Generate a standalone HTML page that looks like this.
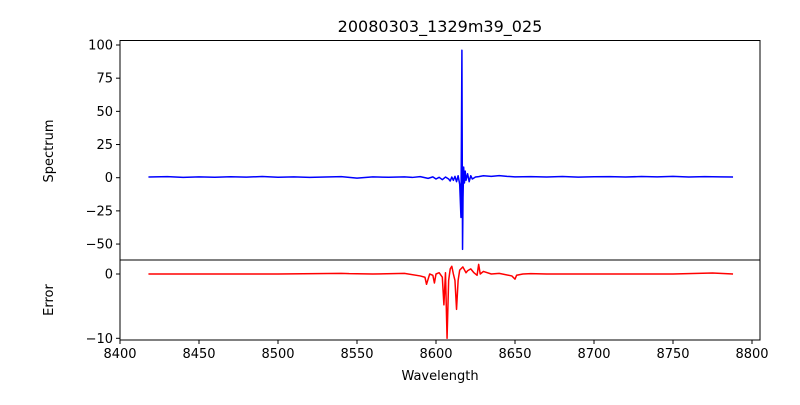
<!DOCTYPE html>
<html><head><meta charset="utf-8"><style>
body{margin:0;background:#fff}
svg{font-family:"DejaVu Sans","Liberation Sans",sans-serif}
</style></head><body>
<svg id="c" width="800" height="400" xmlns="http://www.w3.org/2000/svg"></svg>
<script>
const specX=[8418,8430,8440,8450,8460,8470,8480,8490,8500,8510,8520,8530,8540,8550,8560,8570,8580,8585,8590,8595,8598,8600,8602,8604,8606,8608,8609,8610,8611,8612,8613,8614,8615,8615.8,8616.4,8616.8,8617.1,8617.5,8618,8618.5,8619,8620,8621,8622,8623,8625,8627,8630,8635,8640,8645,8650,8660,8670,8680,8690,8700,8710,8720,8730,8740,8750,8760,8770,8780,8788];
const specY=[0.5,0.8,0.2,0.6,0.3,0.7,0.4,0.9,0.3,0.6,0.2,0.5,0.8,-0.3,0.6,0.3,0.6,0.2,0.8,-0.5,0.6,-1,0.3,-1.5,0.5,-1,-2.5,0.5,-2,1,-3,1.5,-5,-30,96,-54,-15,8,-4,5,-2,3,-3,1.5,-1,0.5,0.8,1.5,1,1.6,1,0.6,0.8,0.5,0.9,0.4,0.7,0.8,0.5,0.9,0.6,1,0.5,0.8,0.6,0.5];
const errX=[8418,8450,8500,8540,8545,8560,8580,8590,8593,8594,8596,8598,8599,8600,8602,8604,8605,8606,8607,8608,8609,8610,8611,8612,8613,8614,8615,8617,8619,8620,8622,8624,8626,8627,8628,8630,8635,8640,8648,8650,8651,8655,8660,8670,8700,8750,8775,8788];
const errY=[0,0,0,0.1,0.05,0,0.1,-0.3,-0.5,-1.6,0,-0.2,-1.4,0,0.2,-0.5,-4.8,0.2,-10,-1,0.8,1.2,0,-1,-5.5,-1,0.6,1.1,0.2,0.5,0.8,0.2,-0.2,1.5,0,0.4,0,0.1,-0.3,-0.8,-0.2,0,0.05,0,0,0,0.15,0];
const xTicks=[8400,8450,8500,8550,8600,8650,8700,8750,8800];
const specTicks=[100,75,50,25,0,-25,-50];
const errTicks=[0,-10];

const NS="http://www.w3.org/2000/svg";
const svg=document.getElementById('c');
const L=120,R=760;
const X=v=>L+(v-8400)*(752-120)/400;
const YS=v=>177.7-v*1.327;
const YE=v=>274-v*6.43;
function mk(t,a,p){const e=document.createElementNS(NS,t);for(const k in a)e.setAttribute(k,a[k]);(p||svg).appendChild(e);return e;}
function txt(x,y,s,anchor,size){const e=mk('text',{x:x,y:y,'text-anchor':anchor,'font-size':size||13,fill:'#000'});e.textContent=s;return e;}

const sp=mk('polyline',{points:specX.map((v,i)=>X(v)+','+YS(specY[i])).join(' '),fill:'none',stroke:'#0000ff','stroke-width':1.5,'stroke-linejoin':'round'});


const er=mk('polyline',{points:errX.map((v,i)=>X(v)+','+YE(errY[i])).join(' '),fill:'none',stroke:'#ff0000','stroke-width':1.5,'stroke-linejoin':'round'});



const f1=mk('rect',{x:L,y:40.5,width:R-L,height:219.5,fill:'none',stroke:'#000','stroke-width':1});


const f2=mk('rect',{x:L,y:260,width:R-L,height:80,fill:'none',stroke:'#000','stroke-width':1});



specTicks.forEach(v=>{const y=YS(v);mk('line',{x1:L-4,x2:L,y1:y,y2:y,stroke:'#000'});const t=txt(L-7,y+4.5,v<0?'\u2212'+(-v):String(v),'end');

});
errTicks.forEach(v=>{const y=YE(v);mk('line',{x1:L-4,x2:L,y1:y,y2:y,stroke:'#000'});const t=txt(L-7,y+4.5,v<0?'\u2212'+(-v):String(v),'end');

});
xTicks.forEach(v=>{const x=X(v);mk('line',{x1:x,x2:x,y1:340,y2:344,stroke:'#000'});const t=txt(x,358,String(v),'middle');

});

let t=txt(440,32,'20080303_1329m39_025','middle',16);


t=txt(440,380,'Wavelength','middle',13);


t=txt(0,0,'Spectrum','middle',13);t.setAttribute('transform','translate(53,151) rotate(-90)');


t=txt(0,0,'Error','middle',13);t.setAttribute('transform','translate(53,300) rotate(-90)');


</script>
</body></html>
